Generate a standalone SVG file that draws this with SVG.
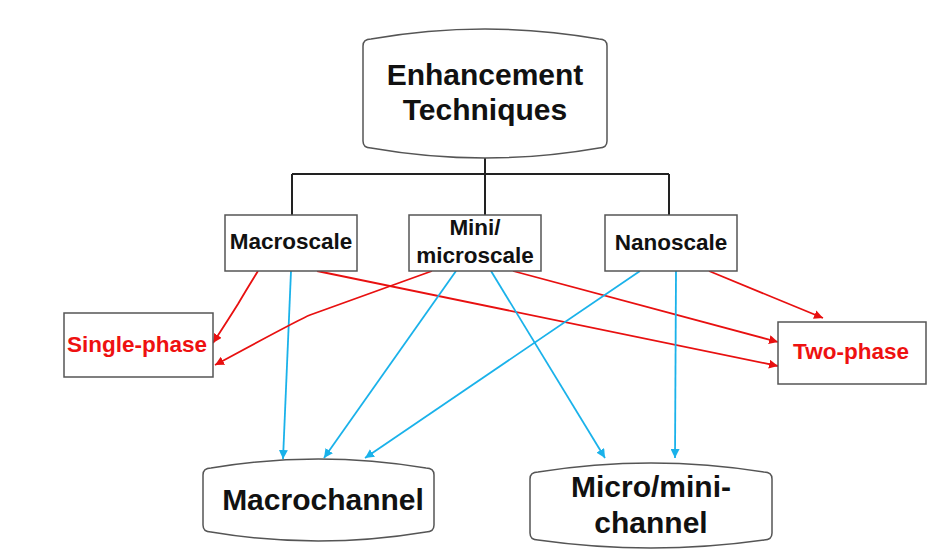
<svg xmlns="http://www.w3.org/2000/svg" width="951" height="550" viewBox="0 0 951 550">
<defs>
<style>
.box{fill:#fff;stroke:#555;stroke-width:1.5}
.cyl{fill:#fff;stroke:#555;stroke-width:1.5}
.t{font-family:"Liberation Sans",Arial,sans-serif;font-weight:bold;text-anchor:middle;fill:#111}
.big{font-size:30px}
.mid{font-size:22.5px}
.red{fill:#ee1111}
.tree{fill:none;stroke:#222;stroke-width:2}
.r{fill:none;stroke:#e81010;stroke-width:1.8}
.b{fill:none;stroke:#1ab2ea;stroke-width:1.8}
</style>
<marker id="ar" viewBox="0 0 10 10" refX="10" refY="5" markerWidth="9" markerHeight="9" markerUnits="userSpaceOnUse" orient="auto"><path d="M0,0 L10,5 L0,10 Z" fill="#e81010"/></marker>
<marker id="ab" viewBox="0 0 10 10" refX="10" refY="5" markerWidth="9" markerHeight="9" markerUnits="userSpaceOnUse" orient="auto"><path d="M0,0 L10,5 L0,10 Z" fill="#1ab2ea"/></marker>
</defs>
<rect width="951" height="550" fill="#fff"/>
<g id="connectors">
<path class="tree" d="M485,158 V215 M292,174 H669 M292,174 V215 M669,174 V215"/>
<path class="r" marker-end="url(#ar)" d="M258,271 Q245,292 238,304 Q228,320 213,343"/>
<path class="b" marker-end="url(#ab)" d="M291,271 L283,459"/>
<path class="r" marker-end="url(#ar)" d="M317,271 L778,366"/>
<path class="r" marker-end="url(#ar)" d="M432,271 L310,315 Q300,319 215,365"/>
<path class="b" marker-end="url(#ab)" d="M456,271 L324,458"/>
<path class="b" marker-end="url(#ab)" d="M491,271 L605,458"/>
<path class="r" marker-end="url(#ar)" d="M513,271 L778,342"/>
<path class="b" marker-end="url(#ab)" d="M640,271 L365,458"/>
<path class="b" marker-end="url(#ab)" d="M676,271 L675,458"/>
<path class="r" marker-end="url(#ar)" d="M709,271 L823,318"/>
</g>
<g id="enhancement">
<path class="cyl" d="M363,46 Q363,39 371,39 Q485,19 599,39 Q607,39 607,46 L607,141 Q607,148 599,148 Q485,168 371,148 Q363,148 363,141 Z"/>
<text class="t big" x="485" y="85">Enhancement</text>
<text class="t big" x="485" y="120">Techniques</text>
</g>
<g id="macroscale">
<rect class="box" x="225" y="215" width="132" height="56"/>
<text class="t mid" x="291" y="249">Macroscale</text>
</g>
<g id="miniscale">
<rect class="box" x="409" y="215" width="132" height="56"/>
<text class="t mid" x="475" y="235">Mini/</text>
<text class="t mid" x="475" y="263">microscale</text>
</g>
<g id="nanoscale">
<rect class="box" x="605" y="215" width="132" height="56"/>
<text class="t mid" x="671" y="250">Nanoscale</text>
</g>
<g id="singlephase">
<rect class="box" x="64" y="313" width="149" height="64"/>
<text class="t mid red" x="137" y="352">Single-phase</text>
</g>
<g id="twophase">
<rect class="box" x="778" y="322" width="148" height="62"/>
<text class="t mid red" x="851" y="359">Two-phase</text>
</g>
<g id="macrochannel">
<path class="cyl" d="M203,475 Q203,468 211,468 Q318,450 426,468 Q434,468 434,475 L434,525 Q434,532 426,532 Q318,550 211,532 Q203,532 203,525 Z"/>
<text class="t big" x="323" y="510">Macrochannel</text>
</g>
<g id="microchannel">
<path class="cyl" d="M530,479 Q530,472 538,472 Q651,454 764,472 Q772,472 772,479 L772,533 Q772,540 764,540 Q651,556 538,540 Q530,540 530,533 Z"/>
<text class="t big" x="651" y="497">Micro/mini-</text>
<text class="t big" x="651" y="533">channel</text>
</g>
</svg>
